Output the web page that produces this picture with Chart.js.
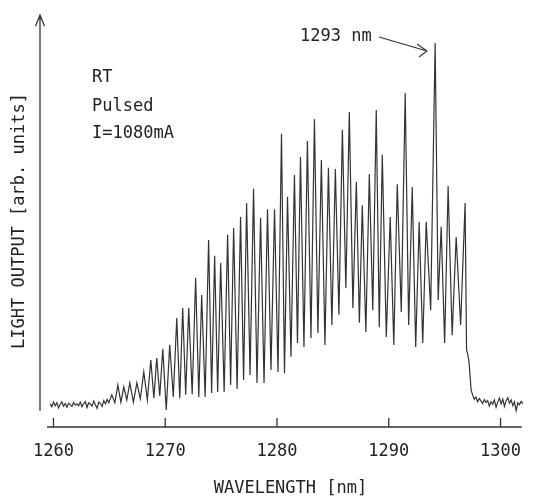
<!DOCTYPE html>
<html>
<head>
<meta charset="utf-8">
<script src="https://cdn.jsdelivr.net/npm/chart.js@4.4.1/dist/chart.umd.min.js"></script>
<style>
html, body { margin: 0; padding: 0; background: #fff; }
canvas { display: block; }
</style>
</head>
<body>
<canvas id="spectrum" width="535" height="501"></canvas>
<script>
// mode peaks (nm) and their heights (arb. units, tallest = 100)
const peakNm = [
    1265.22, 1265.76, 1266.29, 1266.83, 1267.46, 1268.08, 1268.71, 1269.24, 1269.78, 1270.40,
    1271.03, 1271.56, 1272.10, 1272.72, 1273.26, 1273.88, 1274.42, 1274.96, 1275.58, 1276.12,
    1276.74, 1277.28, 1277.90, 1278.53, 1279.15, 1279.78, 1280.40, 1280.94, 1281.56, 1282.10,
    1282.72, 1283.35, 1283.97, 1284.60, 1285.22, 1285.85, 1286.47, 1287.10, 1287.63, 1288.26,
    1288.88, 1289.42, 1290.13, 1290.76, 1291.47, 1292.10, 1292.72, 1293.35, 1294.15, 1294.69,
    1295.31, 1296.03, 1296.83
];
const peakLevel = [
    2.8, 5.5, 5.0, 6.1, 6.1, 9.1, 12.4, 13.0, 15.5, 16.6,
    24.0, 26.8, 26.8, 35.1, 30.4, 45.6, 41.2, 39.2, 47.0, 48.9,
    51.9, 55.8, 59.7, 51.7, 54.1, 54.1, 74.9, 57.5, 63.5, 68.5,
    72.9, 79.0, 67.7, 65.5, 65.2, 76.0, 80.9, 61.6, 55.2, 63.8,
    81.5, 69.1, 51.9, 61.0, 86.2, 60.2, 50.6, 50.6, 100, 49.2,
    60.5, 46.4, 55.8
];

// minima between neighbouring peaks
const valleyNm = [
    1265.49, 1266.03, 1266.56, 1267.15, 1267.77, 1268.40, 1268.98, 1269.51, 1270.09, 1270.72,
    1271.30, 1271.83, 1272.41, 1273.00, 1273.57, 1274.15, 1274.69, 1275.27, 1275.85, 1276.43,
    1277.01, 1277.59, 1278.21, 1278.84, 1279.46, 1280.09, 1280.67, 1281.25, 1281.83, 1282.41,
    1283.04, 1283.66, 1284.29, 1284.91, 1285.54, 1286.16, 1286.79, 1287.37, 1287.95, 1288.57,
    1289.15, 1289.78, 1290.45, 1291.12, 1291.78, 1292.41, 1293.04, 1293.75, 1294.42, 1295.00,
    1295.67, 1296.43
];
const valleyLevel = [
    0.6, 0.8, 1.4, 0.8, 1.7, 1.4, 1.9, 2.5, -1.4, 2.2,
    1.9, 2.8, 3.0, 2.2, 2.2, 3.3, 3.6, 3.6, 5.5, 4.4,
    6.9, 8.3, 6.1, 6.1, 9.7, 9.1, 8.8, 13.3, 17.1, 16.0,
    18.5, 19.9, 16.6, 22.1, 24.9, 32.3, 26.8, 22.7, 20.2, 26.2,
    21.5, 18.8, 16.6, 25.7, 22.1, 16.0, 17.1, 26.2, 29.0, 17.1,
    19.3, 22.1
];

// noise floor, sampled every 0.15 nm
const noiseStep = 0.15;
const leftNoiseStart = 1259.7;
const leftNoise = [
    0.3, -0.5, 0.8, -0.2, 0.6, -0.8, 0.2, 0.9, -0.3, 0.4, -0.6, 0.5,
    0.1, -0.4, 0.7, 0.0, 0.3, -0.2, 0.8, -0.5, 0.4, 0.9, -0.7, 0.6,
    0.2, -0.3, 1.1, 0.1, -0.9, 0.8, 0.4, -0.4, 1.2, 0.3, 1.5, 0.6
];
// cut-off edge after the last mode
const edgeNm = [1296.96, 1297.08, 1297.18, 1297.37];
const edgeLevel = [15.2, 13.8, 11.9, 4.1];
const rightNoiseStart = 1297.5;
const rightNoise = [
    2.8, 1.6, 2.2, 0.9, 1.8, 1.1, 0.4, 1.5, 0.7, 1.2, -0.3,
    0.9, 0.2, 1.4, -0.6, 0.8, 1.9, 0.3, 1.6, -0.4, 1.2,
    2.0, 0.5, 1.4, -0.2, 0.9, -1.6, 0.6, 0.1, 1.0, 0.4
];

const xTicks = [1260, 1270, 1280, 1290, 1300];

const points = [];
leftNoise.forEach((v, i) => points.push({ x: leftNoiseStart + i * noiseStep, y: v }));
peakNm.forEach((nm, i) => {
    points.push({ x: nm, y: peakLevel[i] });
    if (i < valleyNm.length) points.push({ x: valleyNm[i], y: valleyLevel[i] });
});
edgeNm.forEach((nm, i) => points.push({ x: nm, y: edgeLevel[i] }));
rightNoise.forEach((v, i) => points.push({ x: rightNoiseStart + i * noiseStep, y: v }));

const FONT = '"DejaVu Sans Mono", "Liberation Mono", monospace';
const INK = '#222';

// axis lines drawn like the paper figure: arrow on y, inner ticks on x
const paperAxes = {
    id: 'paperAxes',
    afterDraw(chart) {
        const { ctx, chartArea, scales: { x, y } } = chart;
        ctx.save();
        ctx.strokeStyle = '#333';
        ctx.lineWidth = 1.3;

        const yb = chartArea.bottom;
        ctx.beginPath();
        ctx.moveTo(chartArea.left, yb);
        ctx.lineTo(x.getPixelForValue(1301.9), yb);
        xTicks.forEach(t => {
            const px = x.getPixelForValue(t);
            ctx.moveTo(px, yb);
            ctx.lineTo(px, yb - 9);
        });
        ctx.stroke();

        const ax = chartArea.left - 7;
        const top = chartArea.top;
        ctx.beginPath();
        ctx.moveTo(ax, y.getPixelForValue(-1.6));
        ctx.lineTo(ax, top);
        ctx.moveTo(ax - 4.5, top + 11);
        ctx.lineTo(ax, top);
        ctx.lineTo(ax + 4.5, top + 11);
        ctx.stroke();

        // labels
        ctx.fillStyle = INK;
        ctx.font = '17px ' + FONT;
        ctx.textBaseline = 'alphabetic';
        ctx.textAlign = 'left';
        const lx = chartArea.left + 45;
        ctx.fillText('RT', lx, 82);
        ctx.fillText('Pulsed', lx, 111);
        ctx.fillText('I=1080mA', lx, 138);
        ctx.fillText('1293 nm', 300, 41);

        // arrow to the 1293 nm mode
        const tipX = 427, tipY = 51;
        ctx.beginPath();
        ctx.moveTo(379, 37);
        ctx.lineTo(tipX, tipY);
        ctx.moveTo(tipX - 10, tipY - 7);
        ctx.lineTo(tipX, tipY);
        ctx.lineTo(tipX - 8, tipY + 6);
        ctx.lineWidth = 1.1;
        ctx.stroke();
        ctx.restore();
    }
};

new Chart(document.getElementById('spectrum'), {
    type: 'line',
    data: {
        datasets: [{
            data: points,
            borderColor: '#333',
            borderWidth: 1.2,
            pointRadius: 0,
            tension: 0,
            fill: false
        }]
    },
    options: {
        responsive: false,
        animation: false,
        layout: { padding: { top: 15, right: 0, left: 0, bottom: 0 } },
        plugins: {
            legend: { display: false },
            tooltip: { enabled: false }
        },
        scales: {
            x: {
                type: 'linear',
                min: 1259.42,
                max: 1302.99,
                afterFit: s => { s.height = 74; },
                afterBuildTicks: s => { s.ticks = xTicks.map(v => ({ value: v })); },
                grid: { display: false, drawTicks: false },
                border: { display: false },
                ticks: {
                    padding: 14,
                    color: INK,
                    font: { family: FONT, size: 17 },
                    maxRotation: 0,
                    autoSkip: false,
                    callback: v => String(v)
                },
                title: {
                    display: true,
                    text: 'WAVELENGTH [nm]',
                    color: INK,
                    font: { family: FONT, size: 17 },
                    padding: { top: 0, bottom: 2 }
                }
            },
            y: {
                min: -6.08,
                max: 107.73,
                afterFit: s => { s.width = 47; },
                grid: { display: false, drawTicks: false },
                border: { display: false },
                ticks: { display: false },
                title: {
                    display: true,
                    text: 'LIGHT OUTPUT [arb. units]',
                    color: INK,
                    font: { family: FONT, size: 17 },
                    padding: { top: 9, bottom: 0 }
                }
            }
        }
    },
    plugins: [paperAxes]
});
</script>
</body>
</html>
